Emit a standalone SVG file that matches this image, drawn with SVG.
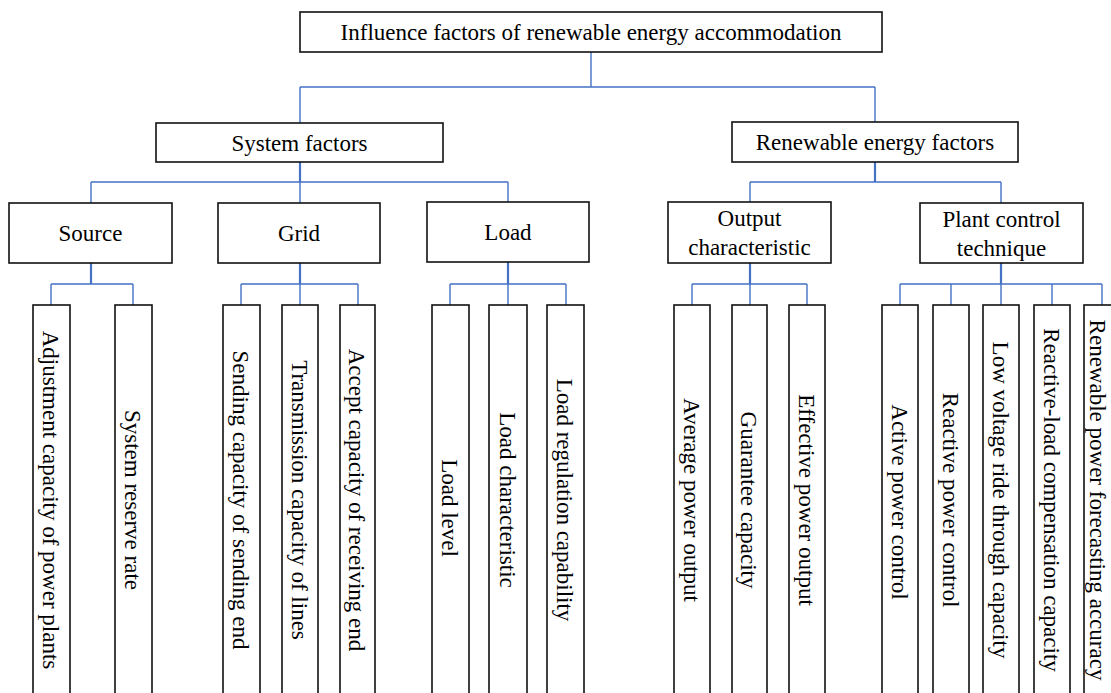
<svg xmlns="http://www.w3.org/2000/svg" width="1111" height="693" viewBox="0 0 1111 693">
<style>
.box{fill:#fff;stroke:#111;stroke-width:1.6}
.t{font-family:"Liberation Serif","Times New Roman",serif;font-size:23px;fill:#000;text-anchor:middle}
.c{fill:none;stroke:#4472C4;stroke-width:1.4}
.s{fill:none;stroke:#4472C4;stroke-width:2.2}
</style>
<rect width="1111" height="693" fill="#fff"/>
<g id="connectors">
<path class="c" d="M591,52V87M300,87H875M300,87V123M875,87V122"/>
<path class="s" d="M300,162V182M875,162V182"/>
<path class="c" d="M91,182H508M91,182V203M300,182V203M508,182V202"/>
<path class="c" d="M750,182H1001M750,182V202M1001,182V203"/>
<path class="s" d="M91,263V284M300,263V284M508,262V284M750,263V284M1001,263V284"/>
<path class="c" d="M51,284H133M51,284V305M133,284V305"/>
<path class="c" d="M241,284H358M241,284V305M300,284V305M358,284V305"/>
<path class="c" d="M450,284H566M450,284V305M508,284V305M566,284V305"/>
<path class="c" d="M692,284H807M692,284V305M750,284V305M807,284V305"/>
<path class="c" d="M900,284H1102M900,284V305M951,284V305M1001,284V305M1052,284V305M1102,284V305"/>
</g>
<g id="root"><rect class="box" x="300" y="12" width="582" height="40"/><text class="t" x="591" y="32" dy="0.35em">Influence factors of renewable energy accommodation</text></g>
<g id="system"><rect class="box" x="156" y="123" width="287" height="39"/><text class="t" x="299.5" y="142.5" dy="0.35em">System factors</text></g>
<g id="renewable"><rect class="box" x="732" y="122" width="286" height="40"/><text class="t" x="875" y="142" dy="0.35em">Renewable energy factors</text></g>
<g id="source"><rect class="box" x="9" y="203" width="163" height="60"/><text class="t" x="90.5" y="233" dy="0.35em">Source</text></g>
<g id="grid"><rect class="box" x="218" y="203" width="162" height="60"/><text class="t" x="299" y="233" dy="0.35em">Grid</text></g>
<g id="load"><rect class="box" x="427" y="202" width="162" height="60"/><text class="t" x="508" y="232" dy="0.35em">Load</text></g>
<g id="output"><rect class="box" x="668" y="202" width="163" height="61"/><text class="t" x="749.5" y="218" dy="0.35em">Output</text><text class="t" x="749.5" y="247" dy="0.35em">characteristic</text></g>
<g id="plant"><rect class="box" x="920" y="203" width="163" height="60"/><text class="t" x="1001.5" y="219" dy="0.35em">Plant control</text><text class="t" x="1001.5" y="248" dy="0.35em">technique</text></g>
<g id="leaf1"><rect class="box" x="33" y="305" width="37" height="400"/><text class="t" transform="translate(51.5,500) rotate(90)" dy="0.35em">Adjustment capacity of power plants</text></g>
<g id="leaf2"><rect class="box" x="115" y="305" width="37" height="400"/><text class="t" transform="translate(133.5,500) rotate(90)" dy="0.35em">System reserve rate</text></g>
<g id="leaf3"><rect class="box" x="223" y="305" width="37" height="400"/><text class="t" transform="translate(241.5,500) rotate(90)" dy="0.35em">Sending capacity of sending end</text></g>
<g id="leaf4"><rect class="box" x="282" y="305" width="36" height="400"/><text class="t" transform="translate(300,500) rotate(90)" dy="0.35em">Transmission capacity of lines</text></g>
<g id="leaf5"><rect class="box" x="340" y="305" width="35" height="400"/><text class="t" transform="translate(357.5,500) rotate(90)" dy="0.35em">Accept capacity of receiving end</text></g>
<g id="leaf6"><rect class="box" x="432" y="305" width="37" height="400"/><text class="t" transform="translate(450.5,508) rotate(90)" dy="0.35em">Load level</text></g>
<g id="leaf7"><rect class="box" x="489" y="305" width="38" height="400"/><text class="t" transform="translate(508,500) rotate(90)" dy="0.35em">Load characteristic</text></g>
<g id="leaf8"><rect class="box" x="547" y="305" width="37" height="400"/><text class="t" transform="translate(565.5,500) rotate(90)" dy="0.35em">Load regulation capability</text></g>
<g id="leaf9"><rect class="box" x="674" y="305" width="36" height="400"/><text class="t" transform="translate(692,500) rotate(90)" dy="0.35em">Average power output</text></g>
<g id="leaf10"><rect class="box" x="732" y="305" width="35" height="400"/><text class="t" transform="translate(749.5,500) rotate(90)" dy="0.35em">Guarantee capacity</text></g>
<g id="leaf11"><rect class="box" x="789" y="305" width="36" height="400"/><text class="t" transform="translate(807,500) rotate(90)" dy="0.35em">Effective power output</text></g>
<g id="leaf12"><rect class="box" x="882" y="305" width="36" height="400"/><text class="t" transform="translate(900,502) rotate(90)" dy="0.35em">Active power control</text></g>
<g id="leaf13"><rect class="box" x="933" y="305" width="36" height="400"/><text class="t" transform="translate(951,500) rotate(90)" dy="0.35em">Reactive power control</text></g>
<g id="leaf14"><rect class="box" x="983" y="305" width="36" height="400"/><text class="t" transform="translate(1001,500) rotate(90)" dy="0.35em">Low voltage ride through capacity</text></g>
<g id="leaf15"><rect class="box" x="1034" y="305" width="36" height="400"/><text class="t" transform="translate(1052,500) rotate(90)" dy="0.35em">Reactive-load compensation capacity</text></g>
<g id="leaf16"><rect class="box" x="1084" y="305" width="36" height="400"/><text class="t" transform="translate(1098.5,500) rotate(90)" dy="0.35em">Renewable power forecasting accuracy</text></g>
</svg>
